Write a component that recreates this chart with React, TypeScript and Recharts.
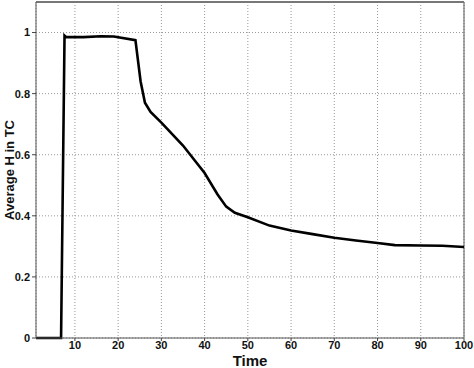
import React from 'react'
import { LineChart, Line, XAxis, YAxis, CartesianGrid, ReferenceLine } from 'recharts'

const times = [1, 6.8, 7.6, 8, 12, 16, 19, 24, 25.2, 26.2, 27.5, 30, 35, 40, 43, 45, 47, 50, 55, 60, 65, 70, 75, 80, 84, 90, 95, 100]
const avgH = [0, 0, 0.99, 0.985, 0.985, 0.988, 0.987, 0.975, 0.84, 0.77, 0.74, 0.705, 0.63, 0.54, 0.47, 0.43, 0.41, 0.395, 0.368, 0.352, 0.34, 0.328, 0.319, 0.311, 0.304, 0.303, 0.302, 0.298]
const xTicks = [10, 20, 30, 40, 50, 60, 70, 80, 90, 100]
const yTicks = [0, 0.2, 0.4, 0.6, 0.8, 1]

const data = times.map((t, i) => ({ t, h: avgH[i] }))

const font = 'Arial, "Liberation Sans", Helvetica, sans-serif'
const tickStyle = { fontSize: 11, fill: '#111', fontWeight: 700, fontFamily: font }

const YLabel = ({ viewBox }: any) => {
  const cx = 11
  const cy = viewBox.y + viewBox.height / 2
  return (
    <text x={cx} y={cy} transform={`rotate(-90 ${cx} ${cy})`} textAnchor="middle" dominantBaseline="middle"
      style={{ fontSize: 13, fontWeight: 700, fill: '#111', fontFamily: font }}>
      Average H in TC
    </text>
  )
}

export default function App() {
  return (
    <div style={{ position: 'fixed', top: 0, left: 0, width: 474, height: 368, background: '#fff' }}>
      <LineChart width={474} height={368} data={data} margin={{ top: 2, right: 10, left: 0, bottom: 0 }}>
        <CartesianGrid strokeDasharray="1 2" stroke="#999" />
        <XAxis
          dataKey="t"
          type="number"
          domain={[1, 100]}
          ticks={xTicks}
          height={30}
          tick={tickStyle}
          tickSize={3}
          tickMargin={0}
          tickLine={{ stroke: '#444' }}
          axisLine={{ stroke: '#555' }}
          label={{ value: 'Time', position: 'insideBottom', offset: 2, style: { fontSize: 15, fontWeight: 700, fill: '#111', fontFamily: font } }}
        />
        <YAxis
          type="number"
          domain={[0, 1.1]}
          ticks={yTicks}
          width={36}
          tick={tickStyle}
          tickSize={4}
          tickLine={{ stroke: '#444' }}
          axisLine={{ stroke: '#555' }}
          label={{ content: YLabel }}
        />
        <ReferenceLine x={100} stroke="#555" />
        <ReferenceLine y={1.1} stroke="#777" strokeWidth={2} />
        <Line type="linear" dataKey="h" stroke="#000" strokeWidth={2.6} dot={false} isAnimationActive={false} />
      </LineChart>
    </div>
  )
}
